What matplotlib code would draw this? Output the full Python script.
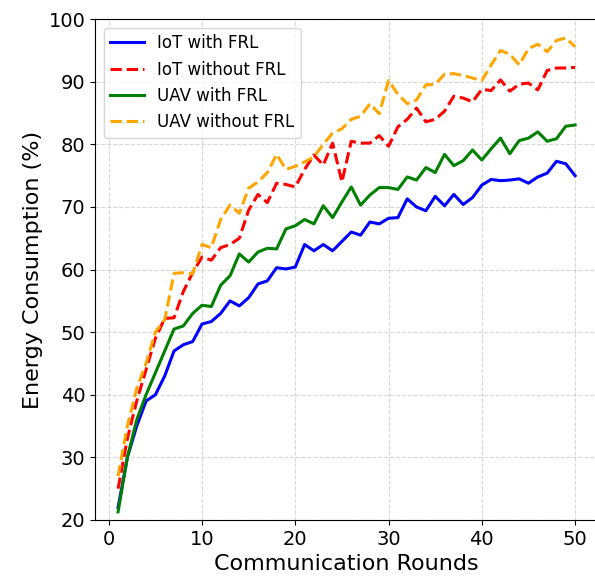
import numpy as np
import matplotlib
matplotlib.use('Agg')
import matplotlib.pyplot as plt

rounds = np.arange(1, 51)

iot_frl = [22, 30, 35, 39, 40, 43, 47, 48, 48.5, 51.3,
           51.7, 53, 55, 54.2, 55.5, 57.7, 58.2, 60.3, 60.1, 60.4,
           64, 63, 64, 63, 64.5, 66, 65.5, 67.6, 67.3, 68.2,
           68.3, 71.3, 70, 69.4, 71.7, 70.2, 72, 70.4, 71.5, 73.5,
           74.4, 74.2, 74.3, 74.5, 73.8, 74.8, 75.4, 77.3, 76.9, 75]
iot_nofrl = [25, 33, 39, 44, 49, 52.2, 52.3, 56.5, 59.5, 62,
             61.5, 63.5, 64, 65, 69.5, 72, 70.7, 73.8, 73.6, 73.2,
             76, 78.3, 76.7, 80.2, 74, 80.5, 80.2, 80.2, 81.4, 79.7,
             82.8, 84, 85.8, 83.6, 84, 85.3, 87.7, 87.4, 86.8, 88.8,
             88.6, 90.3, 88.5, 89.6, 89.8, 88.7, 91.8, 92.2, 92.2, 92.3]
uav_frl = [21.3, 30, 36, 40, 43.5, 47, 50.5, 51, 53, 54.3,
           54.1, 57.5, 59, 62.5, 61.2, 62.8, 63.4, 63.3, 66.5, 67,
           68, 67.3, 70.2, 68.3, 70.8, 73.2, 70.3, 71.9, 73.1, 73.1,
           72.8, 74.8, 74.3, 76.3, 75.5, 78.4, 76.6, 77.4, 79.1, 77.5,
           79.3, 81, 78.5, 80.6, 81, 82, 80.5, 80.9, 82.9, 83.1]
uav_nofrl = [27, 35, 41, 45, 50, 52, 59.4, 59.5, 59.3, 64,
             63.5, 68, 70.3, 69, 73, 74, 75.5, 78.4, 76, 76.5,
             77.2, 78, 80, 81.8, 82.5, 84, 84.5, 86.5, 84.9, 90.2,
             88, 86.5, 87.1, 89.5, 89.6, 91.2, 91.3, 91, 90.6, 90.2,
             92.7, 95, 94.4, 92.7, 95.3, 96, 94.8, 96.6, 97, 95.6]

fig = plt.figure(figsize=(5.95, 5.81), dpi=100)
ax = fig.add_axes([0.16, 0.105, 0.845, 0.862])

ax.plot(rounds, iot_frl, color='blue', lw=2.2, label='IoT with FRL')
ax.plot(rounds, iot_nofrl, color='red', lw=2.2, ls='--', label='IoT without FRL')
ax.plot(rounds, uav_frl, color='green', lw=2.2, label='UAV with FRL')
ax.plot(rounds, uav_nofrl, color='orange', lw=2.2, ls='--', label='UAV without FRL')

ax.set_ylim(20, 100)
ax.set_xlabel('Communication Rounds', fontsize=16)
ax.set_ylabel('Energy Consumption (%)', fontsize=16)
ax.tick_params(labelsize=14)
ax.grid(True, ls='--', alpha=0.5)
ax.legend(loc='upper left', fontsize=12)

plt.savefig('out.png', dpi=100)
